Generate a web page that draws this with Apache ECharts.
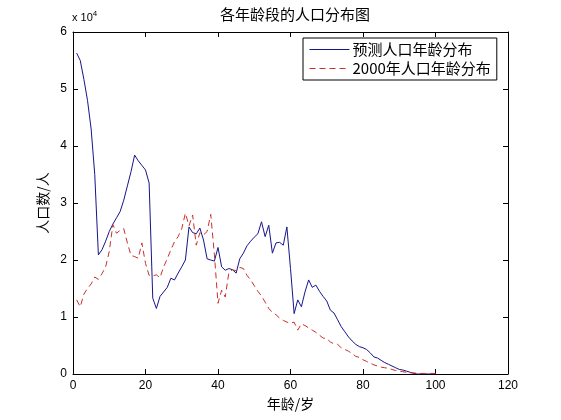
<!DOCTYPE html>
<html><head><meta charset="utf-8">
<script src="https://cdn.jsdelivr.net/npm/echarts@6/dist/echarts.min.js"></script>
<style>html,body{margin:0;padding:0;background:#fff}#c{width:561px;height:420px}</style>
</head><body><div id="c"></div>
<script>
const ages = [];
for (let a = 1; a <= 100; a++) ages.push(a);
// values in units of 10^4 persons
const predicted = [5.63,5.50,5.17,4.80,4.30,3.50,2.09,2.18,2.33,2.50,
2.63,2.74,2.85,3.05,3.30,3.55,3.84,3.74,3.66,3.58,
3.35,1.33,1.15,1.36,1.44,1.52,1.68,1.65,1.77,1.88,
2.00,2.58,2.48,2.46,2.56,2.35,2.02,2.00,1.98,2.22,
1.88,1.82,1.85,1.83,1.77,2.02,2.12,2.25,2.33,2.40,
2.46,2.67,2.41,2.61,2.12,2.30,2.31,2.26,2.58,1.85,
1.06,1.30,1.18,1.44,1.65,1.52,1.56,1.45,1.36,1.28,
1.12,1.07,0.95,0.83,0.74,0.65,0.58,0.52,0.48,0.46,
0.43,0.37,0.30,0.28,0.24,0.20,0.17,0.14,0.11,0.08,
0.07,0.05,0.03,0.01,0,0,0,0,0,0];
const census2000 = [1.30,1.18,1.40,1.50,1.58,1.70,1.66,1.76,1.88,2.15,
2.62,2.47,2.52,2.55,2.30,2.08,2.06,2.03,2.30,1.94,
1.73,1.72,1.74,1.69,1.88,2.02,2.18,2.32,2.41,2.55,
2.82,2.60,2.79,2.26,2.48,2.44,2.50,2.80,2.10,1.24,
1.47,1.35,1.78,1.83,1.81,1.87,1.85,1.73,1.65,1.55,
1.45,1.37,1.26,1.15,1.08,1.04,0.98,0.94,0.91,0.89,
0.91,0.77,0.88,0.85,0.81,0.77,0.73,0.68,0.63,0.62,
0.56,0.53,0.52,0.46,0.43,0.40,0.36,0.31,0.29,0.25,
0.22,0.19,0.16,0.14,0.12,0.11,0.10,0.08,0.06,0.05,
0.04,0.03,0.02,0.02,0.01,0.01,0.01,0.01,0.01,0.01];
const seriesNames = ['预测人口年龄分布','2000年人口年龄分布'];
const xTicks = [0,20,40,60,80,100,120];
const yTicks = [0,1,2,3,4,5,6];

const toPairs = vals => ages.map((a,i)=>[a, vals[i]*10000]);
const font = "'Liberation Sans', Arial, sans-serif";
const cjk = "'Noto Sans CJK SC', sans-serif";
const tickStyle = {show:true, inside:true, length:5, lineStyle:{color:'#000',width:1}};
const axLine = {show:true, onZero:false, lineStyle:{color:'#000',width:1}};
const blue = '#15158a', red = '#c8302c';

const chart = echarts.init(document.getElementById('c'), null, {renderer:'canvas'});
chart.setOption({
  backgroundColor:'#fff',
  animation:false,
  title:{text:'各年龄段的人口分布图', left:290, top:2, textAlign:'center',
    textStyle:{fontFamily:cjk, fontSize:15, fontWeight:'normal', color:'#000'}},
  grid:{left:73, right:53, top:32, bottom:46},
  legend:{
    data:seriesNames, orient:'vertical', left:303, top:38,
    padding:[4,6,4,6], itemGap:4,
    backgroundColor:'#fff', borderColor:'#000', borderWidth:1, borderRadius:0,
    itemWidth:40, itemHeight:14,
    itemStyle:{opacity:0},
    lineStyle:{width:1},
    textStyle:{fontFamily:cjk, fontSize:15, color:'#000', padding:[0,0,0,-2]}
  },
  xAxis:[
    {type:'value', min:0, max:120, interval:20, position:'bottom',
     name:'年龄/岁', nameLocation:'middle', nameGap:19,
     nameTextStyle:{fontFamily:cjk, fontSize:14, color:'#000'},
     axisLine:axLine, axisTick:tickStyle, splitLine:{show:false},
     axisLabel:{fontFamily:font, fontSize:12, color:'#000', margin:6,
       formatter:v=>xTicks.includes(v)?String(v):''}},
    {type:'value', min:0, max:120, interval:20, position:'top',
     axisLine:axLine, axisTick:tickStyle, axisLabel:{show:false}, splitLine:{show:false}}
  ],
  yAxis:[
    {type:'value', min:0, max:60000, interval:10000, position:'left',
     name:'人口数/人', nameLocation:'middle', nameGap:19, nameRotate:90,
     nameTextStyle:{fontFamily:cjk, fontSize:14, color:'#000'},
     axisLine:axLine, axisTick:tickStyle, splitLine:{show:false},
     axisLabel:{fontFamily:font, fontSize:12, color:'#000', margin:6,
       formatter:v=>{const t=v/10000; return yTicks.includes(t)?String(t):'';}}},
    {type:'value', min:0, max:60000, interval:10000, position:'right',
     axisLine:axLine, axisTick:tickStyle, axisLabel:{show:false}, splitLine:{show:false}}
  ],
  graphic:[{
    type:'text', left:72, top:10,
    style:{text:'x 10{s|4}', rich:{s:{fontSize:8, verticalAlign:'top', padding:[0,0,8,0], fontFamily:font}},
      fontFamily:font, fontSize:11, fill:'#000'}
  }],
  series:[
    {name:seriesNames[0], type:'line', xAxisIndex:0, yAxisIndex:0,
     data:toPairs(predicted), showSymbol:false, symbol:'none',
     lineStyle:{color:blue, width:1}, itemStyle:{color:blue}},
    {name:seriesNames[1], type:'line', xAxisIndex:0, yAxisIndex:0,
     data:toPairs(census2000), showSymbol:false, symbol:'none',
     lineStyle:{color:red, width:1, type:[6,4]}, itemStyle:{color:red}}
  ]
});
</script></body></html>
